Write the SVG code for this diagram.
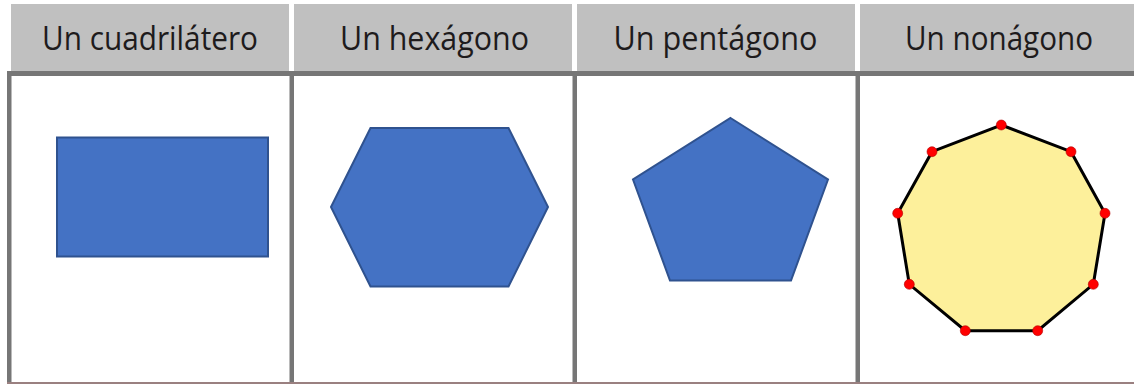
<svg xmlns="http://www.w3.org/2000/svg" width="1134" height="385" viewBox="0 0 1134 385">
<style>
.hdr{fill:#c0c0c0}
.ht{font-family:"Open Sans","DejaVu Sans",sans-serif;font-size:32px;fill:#1e1b1c;text-anchor:middle}
.grid{fill:#767676}
.blue{fill:#4472c4;stroke:#2f528f;stroke-width:2;stroke-linejoin:miter}
.dot{fill:#ff0000;stroke:#b00000;stroke-width:0.6}
</style>
<rect width="1134" height="385" fill="#ffffff"/>
<g id="headers">
<rect class="hdr" x="11" y="4" width="278" height="67"/>
<rect class="hdr" x="294" y="4" width="278" height="67"/>
<rect class="hdr" x="577" y="4" width="278" height="67"/>
<rect class="hdr" x="860" y="4" width="274" height="67"/>
<text class="ht" x="150" y="50" textLength="216" lengthAdjust="spacingAndGlyphs">Un cuadrilátero</text>
<text class="ht" x="434.5" y="50" textLength="189" lengthAdjust="spacingAndGlyphs">Un hexágono</text>
<text class="ht" x="715.5" y="50" textLength="204" lengthAdjust="spacingAndGlyphs">Un pentágono</text>
<text class="ht" x="999" y="50" textLength="188" lengthAdjust="spacingAndGlyphs">Un nonágono</text>
</g>
<g id="grid">
<rect class="grid" x="7" y="71" width="1127" height="5"/>
<rect class="grid" x="7" y="71" width="4.5" height="313"/>
<rect class="grid" x="289.5" y="71" width="4.5" height="313"/>
<rect class="grid" x="572.5" y="71" width="4.5" height="313"/>
<rect class="grid" x="855.5" y="71" width="4.5" height="313"/>
<rect x="7" y="382" width="1127" height="2" fill="#9a8080"/>
</g>
<g id="cuadrilatero">
<rect class="blue" x="57" y="137.5" width="211" height="119"/>
</g>
<g id="hexagono">
<polygon class="blue" points="331,207 370.5,128 508.5,128 548,207 508.5,286.5 370.5,286.5"/>
</g>
<g id="pentagono">
<polygon class="blue" points="730.5,118 828,179.5 791,280.5 670,280.5 633,179.5"/>
</g>
<g id="nonagono">
<polygon points="1001.3,125 1071,151.7 1105,213.3 1093.3,284.3 1037.7,330.7 965.3,330.7 909.3,284.3 897.7,213.3 932,151.7" fill="#fdf09b" stroke="#000000" stroke-width="3" stroke-linejoin="miter"/>
<circle class="dot" cx="1001.3" cy="125" r="5"/>
<circle class="dot" cx="1071" cy="151.7" r="5"/>
<circle class="dot" cx="1105" cy="213.3" r="5"/>
<circle class="dot" cx="1093.3" cy="284.3" r="5"/>
<circle class="dot" cx="1037.7" cy="330.7" r="5"/>
<circle class="dot" cx="965.3" cy="330.7" r="5"/>
<circle class="dot" cx="909.3" cy="284.3" r="5"/>
<circle class="dot" cx="897.7" cy="213.3" r="5"/>
<circle class="dot" cx="932" cy="151.7" r="5"/>
</g>
</svg>
